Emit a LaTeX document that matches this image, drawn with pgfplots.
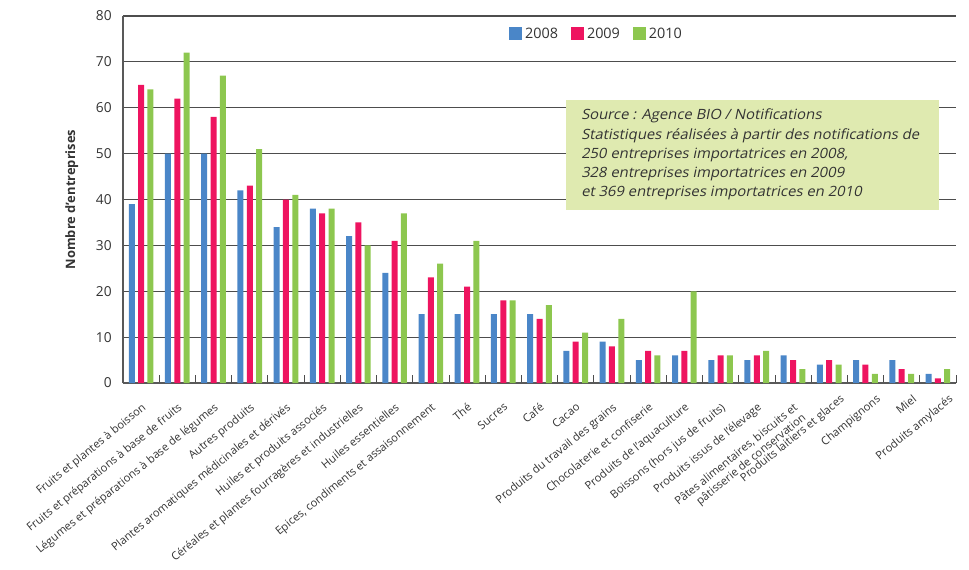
\documentclass[border=0pt]{standalone}
\usepackage{fontspec}
\setmainfont{Open Sans}
\newfontfamily\srcfont{Open Sans}[FakeSlant=0.2, FakeStretch=1.05]
\usepackage{pgfplots}
\pgfplotsset{compat=1.18}
\usepackage{pgfplotstable}

\definecolor{c08}{HTML}{4A86C8}
\definecolor{c09}{HTML}{EE1460}
\definecolor{c10}{HTML}{8DC74F}
\definecolor{srcbox}{HTML}{DFEAB0}
\definecolor{txt}{HTML}{333333}
\definecolor{gridc}{HTML}{4D4D4D}

\pgfplotsset{
  mybar/.style={
    ybar, bar width=4.5pt, draw=none,
    legend image code/.code={\fill[##1] (0pt,-4.875pt) rectangle (9.75pt,4.875pt);}
  }
}

% categories 0..22, values per year
\pgfplotstableread{
x y08 y09 y10
0  39 65 64
1  50 62 72
2  50 58 67
3  42 43 51
4  34 40 41
5  38 37 38
6  32 35 30
7  24 31 37
8  15 23 26
9  15 21 31
10 15 18 18
11 15 14 17
12 7  9  11
13 9  8  14
14 5  7  6
15 6  7  20
16 5  6  6
17 5  6  7
18 6  5  3
19 4  5  4
20 5  4  2
21 5  3  2
22 2  1  3
}\data

\begin{document}
\begin{tikzpicture}
\path[use as bounding box] (-92.25pt,-140.25pt) rectangle (634.5pt,287.25pt);
\begin{axis}[
  scale only axis,
  width=624.75pt, height=275.25pt,
  xmin=-0.5, xmax=22.5,
  ymin=0, ymax=80,
  ytick={0,10,...,80},
  ymajorgrids,
  grid style={gridc, line width=0.9pt},
  axis x line*=bottom, axis y line*=left,
  axis line style={-, gray!70!black, line width=1pt},
  xtick={0,...,18},
  xticklabels={
    {Fruits et plantes à boisson},
    {Fruits et préparations à base de fruits},
    {Légumes et préparations à base de légumes},
    {Autres produits},
    {Plantes aromatiques médicinales et dérivés},
    {Huiles et produits associés},
    {Céréales et plantes fourragères et industrielles},
    {Huiles essentielles},
    {Epices, condiments et assaisonnement},
    {Thé},
    {Sucres},
    {Café},
    {Cacao},
    {Produits du travail des grains},
    {Chocolaterie et confiserie},
    {Produits de l'aquaculture},
    {Boissons (hors jus de fruits)},
    {Produits issus de l'élevage},
    {Pâtes alimentaires, biscuits et\\pâtisserie de conservation}
  },
  extra x ticks={19,20,21,22},
  extra x tick labels={
    {Produits laitiers et glaces},
    {Champignons},
    {Miel},
    {Produits amylacés}
  },
  extra x tick style={major tick length=0pt, xticklabel style={xshift=10pt}},
  xticklabel style={rotate=39, anchor=north east, align=right, inner sep=1pt,
    xshift=-8pt, yshift=-10pt,
    font=\fontsize{8.4}{9.8}\selectfont, text=txt},
  major x tick style={draw=none},
  minor xtick={-0.5,0.5,...,22.5},
  minor x tick style={gridc, line width=0.6pt},
  minor tick length=6pt,
  tick align=inside,
  ytick style={draw=none},
  yticklabel style={font=\fontsize{10.3}{12}\selectfont, text=txt, xshift=-5pt},
  /pgf/number format/assume math mode=true,
  ylabel={Nombre d'entreprises},
  ylabel style={at={(axis description cs:-0.048,0.5)}, anchor=south,
    font=\bfseries\fontsize{9.7}{11}\selectfont, text=txt},
  legend columns=3,
  legend style={draw=none, fill=none, at={(0.569,0.951)}, anchor=center,
    font=\fontsize{10.8}{12}\selectfont, text=txt,
    /tikz/every even column/.append style={column sep=8pt}},
]
\addplot[mybar, bar shift=-7pt, fill=c08] table[x=x, y=y08] {\data};
\addlegendentry{2008}
\addplot[mybar, bar shift=0pt, fill=c09] table[x=x, y=y09] {\data};
\addlegendentry{2009}
\addplot[mybar, bar shift=7pt, fill=c10] table[x=x, y=y10] {\data};
\addlegendentry{2010}

\node[fill=srcbox, anchor=north west, minimum width=279.75pt, minimum height=82.5pt, inner sep=0pt]
  at (rel axis cs:0.5318,0.7711) {};
\node[anchor=north west, align=left, inner sep=0pt, text=txt,
  font=\srcfont\fontsize{10.6}{14.4}\selectfont]
  at (rel axis cs:0.5498,0.747) {Source : Agence BIO / Notifications\\
  Statistiques réalisées à partir des notifications de\\
  250 entreprises importatrices en 2008,\\
  328 entreprises importatrices en 2009\\
  et 369 entreprises importatrices en 2010};
\end{axis}
\end{tikzpicture}
\end{document}
